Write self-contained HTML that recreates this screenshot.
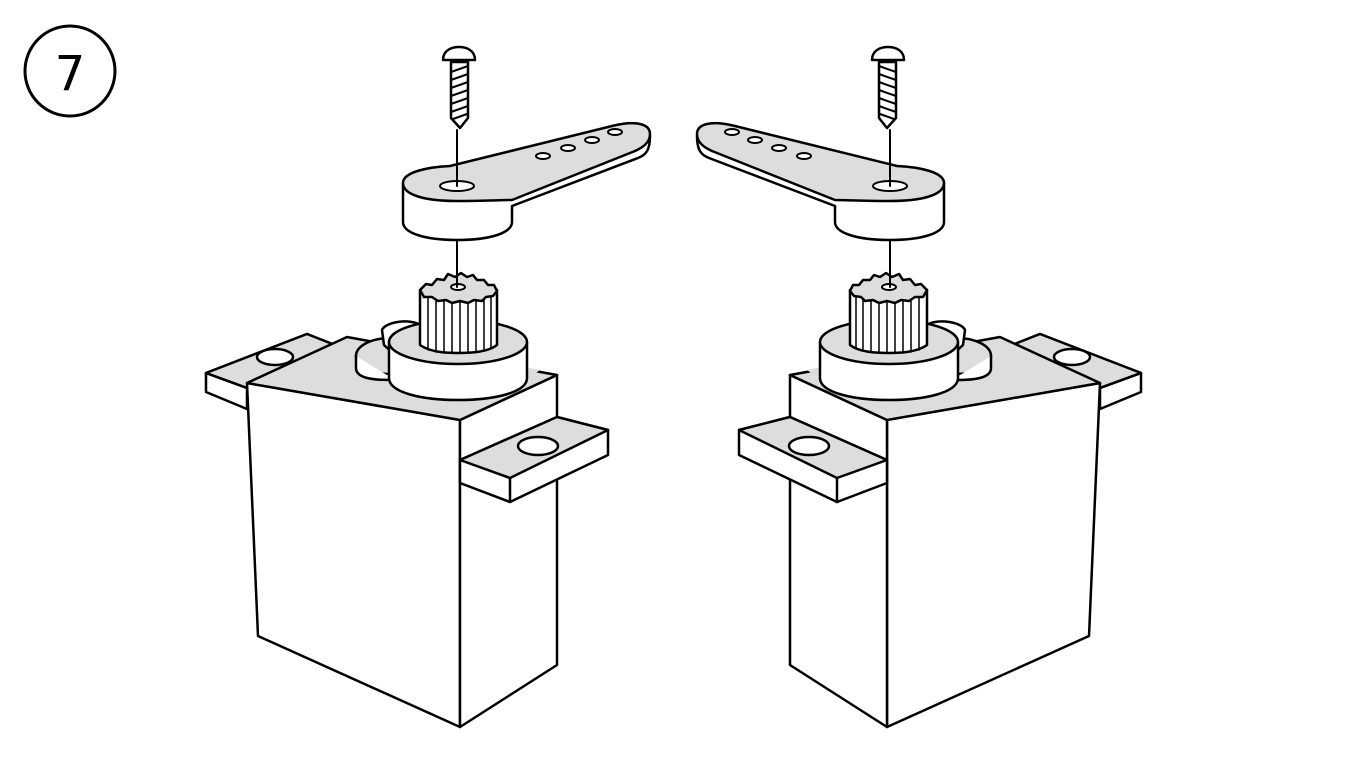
<!DOCTYPE html>
<html><head><meta charset="utf-8"><style>
html,body{margin:0;padding:0;background:#fff;}
svg{display:block;}
</style></head><body>
<svg width="1347" height="780" viewBox="0 0 1347 780" xmlns="http://www.w3.org/2000/svg">
<circle cx="70" cy="71" r="45" fill="none" stroke="#000" stroke-width="3"/>
<text x="70" y="90" text-anchor="middle" font-family="DejaVu Sans, sans-serif" font-size="48">7</text>
<defs>
<g id="servo" stroke="#000" stroke-width="2.5" stroke-linejoin="round" stroke-linecap="round">
  <!-- left tab -->
  <polygon points="206,373 307,334 340,347 247,388 247,409 206,392" fill="#fff"/>
  <polygon points="206,373 307,334 340,347 247,388" fill="#ddd"/>
  <line x1="206" y1="373" x2="247" y2="388"/>
  <ellipse cx="275" cy="357" rx="18" ry="8" fill="#fff"/>
  <!-- body -->
  <polygon points="247,383 460,420 460,727 258,636" fill="#fff"/>
  <polygon points="460,420 557,375 557,665 460,727" fill="#fff"/>
  <polygon points="247,383 347,337 557,375 460,420" fill="#ddd"/>
  <!-- right tab -->
  <polygon points="460,460 557,417 608,430 608,455 510,502 460,483" fill="#fff"/>
  <polygon points="460,460 557,417 608,430 510,478" fill="#ddd"/>
  <line x1="510" y1="478" x2="510" y2="502"/>
  <ellipse cx="538" cy="446" rx="20" ry="9" fill="#fff"/>
  <!-- base plate around horn -->
  <path d="M400,380 C420,395 440,400 460,400 C500,400 520,390 526,380 L540,370 L420,345 Z" fill="#ddd" stroke="none"/>
  <!-- small bump -->
  <ellipse cx="390" cy="356" rx="34" ry="18" fill="#ddd"/>
  <path d="M356,356 L356,368 C356,378 372,380 390,380 L395,380" fill="#fff"/>
  <path d="M382,330 C385,322 410,318 420,325 L400,360 L384,345 Z" fill="#fff"/>
  <!-- output cylinder -->
  <path d="M389,342 L389,378 C389,392 420,400 458,400 C496,400 527,392 527,378 L527,342 Z" fill="#fff"/>
  <ellipse cx="458" cy="342" rx="69" ry="22" fill="#ddd"/>
  <!-- spline -->
  <path d="M420,290 L420,345 C430,352 445,353 458,353 C472,353 488,352 497,345 L497,290 Z" fill="#fff"/>
  <g stroke-width="1.5">
    <line x1="428" y1="296" x2="428" y2="350"/><line x1="436" y1="298" x2="436" y2="352"/>
    <line x1="444" y1="299" x2="444" y2="353"/><line x1="452" y1="300" x2="452" y2="353"/>
    <line x1="460" y1="300" x2="460" y2="353"/><line x1="468" y1="300" x2="468" y2="353"/>
    <line x1="476" y1="299" x2="476" y2="352"/><line x1="484" y1="298" x2="484" y2="351"/>
    <line x1="491" y1="296" x2="491" y2="348"/>
  </g>
  <path d="M420,290 L426,284 L432,285 L437,279 L444,280 L448,274 L455,277 L461,273 L467,277 L473,275 L477,280 L484,280 L488,285 L494,285 L497,291 L493,296 L486,297 L482,301 L474,300 L468,303 L460,301 L452,303 L446,300 L438,301 L432,297 L424,297 Z" fill="#ddd"/>
  <ellipse cx="458" cy="287" rx="7" ry="3" fill="#fff" stroke-width="2"/>
  <!-- horn -->
  <path d="M403,183 L403,222 C403,234 428,240 457,240 C490,240 512,233 512,222 L512,206 L638,158 C646,155 650,150 650,136 Z" fill="#fff"/>
  <path d="M403,183 C403,172 428,167 450,166 L612,126 C636,120 650,124 650,134 C650,142 644,147 635,151 L512,200 C500,200 485,201 457,201 C425,201 403,195 403,183 Z" fill="#ddd"/>
  <ellipse cx="457" cy="186" rx="17" ry="5" fill="#fff" stroke-width="2"/>
  <ellipse cx="543" cy="156" rx="7" ry="3" fill="#fff" stroke-width="2"/>
  <ellipse cx="568" cy="148" rx="7" ry="3" fill="#fff" stroke-width="2"/>
  <ellipse cx="592" cy="140" rx="7" ry="3" fill="#fff" stroke-width="2"/>
  <ellipse cx="615" cy="132" rx="7" ry="3" fill="#fff" stroke-width="2"/>
  <!-- axis line -->
  <line x1="457" y1="130" x2="457" y2="186" stroke-width="2"/>
  <line x1="457" y1="240" x2="457" y2="287" stroke-width="2"/>
  <!-- screw -->
  <path d="M443,60 C443,50 452,47 459,47 C466,47 475,50 475,60 Z" fill="#fff"/>
  <path d="M451,62 L468,62 L468,118 L460,128 L451,118 Z" fill="#fff"/>
  <g stroke-width="2">
    <line x1="451" y1="72" x2="468" y2="66"/><line x1="451" y1="80" x2="468" y2="74"/>
    <line x1="451" y1="88" x2="468" y2="82"/><line x1="451" y1="96" x2="468" y2="90"/>
    <line x1="451" y1="104" x2="468" y2="98"/><line x1="451" y1="112" x2="468" y2="106"/>
    <line x1="453" y1="119" x2="467" y2="114"/>
  </g>
</g>
</defs>
<use href="#servo"/>
<use href="#servo" transform="translate(1347,0) scale(-1,1)"/>
</svg>
</body></html>
